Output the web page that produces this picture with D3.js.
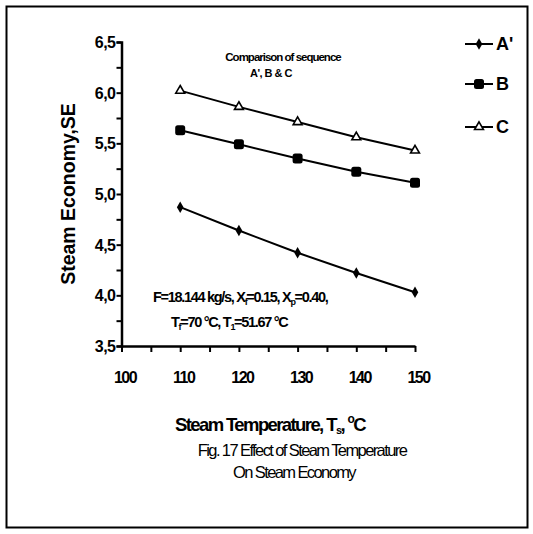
<!DOCTYPE html>
<html>
<head>
<meta charset="utf-8">
<script src="https://cdn.jsdelivr.net/npm/d3@7"></script>
<style>
  html, body { margin: 0; padding: 0; background: #fff; }
  svg { display: block; font-family: "Liberation Sans", Arial, sans-serif; }
</style>
</head>
<body>
<svg id="chart" width="533" height="534"></svg>
<script>
const temps = [110, 120, 130, 140, 150];
const seriesA = [4.87, 4.64, 4.42, 4.22, 4.03];
const seriesB = [5.63, 5.49, 5.35, 5.22, 5.11];
const seriesC = [6.02, 5.86, 5.71, 5.56, 5.43];
const seriesNames = ["A'", "B", "C"];
const xTicks = [100, 110, 120, 130, 140, 150];
const yTicks = [3.5, 4.0, 4.5, 5.0, 5.5, 6.0, 6.5];

const svg = d3.select("#chart");

// outer frame
svg.append("rect").attr("x", 6.5).attr("y", 6.5).attr("width", 521).attr("height", 521)
  .attr("fill", "none").attr("stroke", "#000").attr("stroke-width", 2);

const x = d3.scaleLinear().domain([100, 150]).range([121.5, 415]);
const y = d3.scaleLinear().domain([3.5, 6.5]).range([346, 42]);

// Y axis
const yAxis = svg.append("g").attr("transform", "translate(121.5,0)")
  .call(d3.axisLeft(y).tickValues(d3.range(3.5, 6.51, 0.25)).tickSize(5)
    .tickFormat(d => yTicks.some(t => Math.abs(t - d) < 1e-6) ? d3.format(".1f")(d).replace(".", ",") : ""));
yAxis.select(".domain").attr("stroke-width", 2.5);
yAxis.selectAll(".tick line").attr("stroke-width", 2);
yAxis.selectAll(".tick text").attr("font-size", 16).attr("font-weight", "bold")
  .attr("letter-spacing", -0.5).attr("x", -6).attr("dy", "0.35em");

// X axis
const xAxis = svg.append("g").attr("transform", "translate(0,346)")
  .call(d3.axisBottom(x).tickValues(d3.range(100, 150.1, 5)).tickSize(6).tickSizeOuter(0)
    .tickFormat(d => xTicks.includes(d) ? d : ""));
xAxis.select(".domain").attr("stroke-width", 2.5);
xAxis.selectAll(".tick line").attr("stroke-width", 2);
xAxis.selectAll(".tick text").attr("font-size", 16).attr("font-weight", "bold")
  .attr("letter-spacing", -1.5).attr("y", 26).attr("dx", 3).attr("dy", "0.71em");

// series
const data = [seriesA, seriesB, seriesC];
const line = d3.line().x((d, i) => x(temps[i])).y(d => y(d));
data.forEach(vals => {
  svg.append("path").datum(vals).attr("d", line).attr("fill", "none")
    .attr("stroke", "#000").attr("stroke-width", 2);
});

function marker(g, k, cx, cy) {
  if (k === 0) {
    g.append("path").attr("d", d3.symbol(d3.symbolDiamond, 38)())
      .attr("transform", `translate(${cx},${cy})`).attr("fill", "#000");
  } else if (k === 1) {
    g.append("rect").attr("x", cx - 5).attr("y", cy - 5).attr("width", 10).attr("height", 10)
      .attr("rx", 2.5).attr("fill", "#000");
  } else {
    g.append("path").attr("d", d3.symbol(d3.symbolTriangle, 34)())
      .attr("transform", `translate(${cx},${cy})`).attr("fill", "#fff")
      .attr("stroke", "#000").attr("stroke-width", 1.6);
  }
}
const mg = svg.append("g");
data.forEach((vals, k) => vals.forEach((v, i) => marker(mg, k, x(temps[i]), y(v))));

// legend
const legY = [44, 84, 127];
seriesNames.forEach((n, k) => {
  svg.append("line").attr("x1", 465).attr("x2", 493).attr("y1", legY[k]).attr("y2", legY[k])
    .attr("stroke", "#000").attr("stroke-width", 2);
  marker(svg, k, 479, legY[k]);
  svg.append("text").attr("x", 496).attr("y", legY[k]).attr("dy", "0.36em")
    .attr("font-size", 18).attr("font-weight", "bold").text(n);
});

// inner annotation
svg.append("text").attr("x", 283).attr("y", 61).attr("text-anchor", "middle")
  .attr("font-size", 11.5).attr("font-weight", "bold").attr("letter-spacing", -1)
  .text("Comparison of sequence");
svg.append("text").attr("x", 271).attr("y", 77).attr("text-anchor", "middle")
  .attr("font-size", 11).attr("font-weight", "bold").attr("letter-spacing", -0.5)
  .text("A', B & C");

const ann1 = svg.append("text").attr("x", 153).attr("y", 302).attr("font-size", 14.5)
  .attr("font-weight", "bold").attr("letter-spacing", -1.3);
ann1.append("tspan").text("F=18.144 kg/s, X");
ann1.append("tspan").attr("font-size", 9).attr("dy", 3).text("f");
ann1.append("tspan").attr("dy", -3).text("=0.15, X");
ann1.append("tspan").attr("font-size", 9).attr("dy", 3).text("p");
ann1.append("tspan").attr("dy", -3).text("=0.40,");

const ann2 = svg.append("text").attr("x", 171).attr("y", 327).attr("font-size", 14.5)
  .attr("font-weight", "bold").attr("letter-spacing", -1.3);
ann2.append("tspan").text("T");
ann2.append("tspan").attr("font-size", 9).attr("dy", 3).text("f");
ann2.append("tspan").attr("dy", -3).text("=70 °C, T");
ann2.append("tspan").attr("font-size", 9).attr("dy", 3).text("1");
ann2.append("tspan").attr("dy", -3).text("=51.67 °C");

// y label
svg.append("text").attr("transform", "translate(75,194) rotate(-90)")
  .attr("text-anchor", "middle").attr("font-size", 19.5).attr("font-weight", "bold")
  .text("Steam Economy,SE");

// x title
const xt = svg.append("text").attr("x", 270).attr("y", 431).attr("text-anchor", "middle")
  .attr("font-size", 18.5).attr("font-weight", "bold").attr("letter-spacing", -1.6);
xt.append("tspan").text("Steam Temperature, T");
xt.append("tspan").attr("font-size", 11).attr("dy", 3).text("s");
xt.append("tspan").attr("dy", -3).text(", ");
xt.append("tspan").attr("font-size", 12).attr("dy", -8).text("o");
xt.append("tspan").attr("dy", 8).text("C");

svg.append("text").attr("x", 302).attr("y", 456).attr("text-anchor", "middle")
  .attr("font-size", 16.5).attr("letter-spacing", -1.6)
  .text("Fig. 17  Effect of Steam Temperature");
svg.append("text").attr("x", 294).attr("y", 478).attr("text-anchor", "middle")
  .attr("font-size", 16.5).attr("letter-spacing", -1.6)
  .text("On Steam Economy");
</script>
</body>
</html>
